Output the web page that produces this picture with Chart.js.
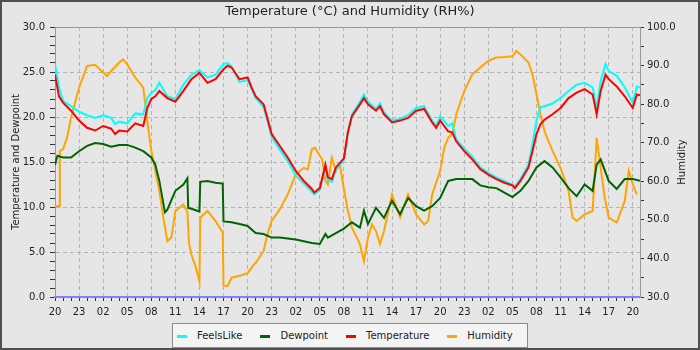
<!DOCTYPE html>
<html lang="en">
<head>
    <meta charset="UTF-8">
    <title>Temperature and Humidity</title>
    <script src="https://cdn.jsdelivr.net/npm/chart.js"></script>
    <style>
        html, body { margin: 0; padding: 0; background: #e6e6e6; }
        #wrap { position: relative; width: 700px; height: 350px; }
        #frame {
            position: absolute; left: 0; top: 0; width: 700px; height: 350px;
            box-sizing: border-box; border: 2px solid #505050; pointer-events: none;
        }
        #legend {
            position: absolute; left: 172px; top: 323px; width: 356px; height: 25px;
            box-sizing: border-box; background: #f4f4f4; border: 1px solid #8c8c8c;
            display: flex; align-items: center; padding-left: 4px;
            font: 10px "DejaVu Sans", sans-serif; color: #222;
        }
        .item { display: flex; align-items: center; margin-right: 18px; }
        .mark { width: 10px; height: 3px; margin-right: 10px; margin-top: 2px; }
    </style>
</head>
<body>
<div id="wrap">
    <canvas id="chart" width="700" height="350"></canvas>
    <div id="legend"></div>
    <div id="frame"></div>
</div>
<script>
    // hours after 20:00 on the first day
    const tempHours = [0,0.5,1,2,3,4,5,6,7,7.5,8,9,10,11,11.5,12,12.5,13,14,15,16,17,18,19,20,21,21.5,22,23,24,
        24.5,25,26,27,28,29,30,31,32,32.3,33,33.7,34,34.5,35,36,36.5,37,38,38.5,39,40,40.5,41,42,43,44,45,46,47,
        47.5,48,49,49.5,50,51,52,53,54,55,56,57,57.3,58,59,59.5,60,60.5,61,62,63,64,65,66,67,67.5,68,68.6,69,70,
        71,72,72.5,72.9];
    const temperature = [24.7,22.3,21.6,20.7,19.6,18.8,18.5,19.0,18.7,18.1,18.5,18.4,19.3,19.0,21.0,22.0,22.3,22.9,22.1,21.7,
        22.9,24.2,24.9,23.8,24.2,25.3,25.7,25.5,24.2,24.4,23.3,22.3,21.4,18.1,16.8,15.5,14.0,12.9,12.0,11.6,
        12.1,14.7,13.3,13.1,14.4,15.4,18.3,20.1,21.4,22.1,21.4,20.7,21.2,20.3,19.4,19.6,19.9,20.7,20.9,19.4,
        18.8,19.6,18.4,18.3,17.3,16.2,15.3,14.2,13.6,13.1,12.7,12.4,12.1,12.9,14.4,16.2,18.1,19.2,19.7,20.3,
        21.0,22.1,22.7,23.1,22.5,20.3,22.9,24.7,24.2,23.4,22.3,21.0,22.5,22.4];
    const feelsLike = [25.9,23.3,21.8,21.2,20.6,20.2,19.9,20.2,19.9,19.2,19.5,19.3,20.4,20.3,22.1,22.7,23.0,23.8,22.3,22.0,
        23.6,24.7,25.2,24.4,24.7,25.9,26.0,25.6,23.9,24.1,23.1,22.1,21.1,17.8,16.4,15.1,13.5,12.6,11.7,11.4,
        11.9,14.5,13.0,12.8,14.1,15.2,18.3,20.3,21.7,22.5,21.7,20.9,21.5,20.5,19.6,19.8,20.2,21.0,21.2,19.6,
        19.0,20.1,19.0,19.3,17.5,16.5,15.6,14.4,13.8,13.3,12.9,12.5,12.3,13.1,14.7,17.0,19.6,21.1,21.2,21.5,
        22.1,22.9,23.6,23.8,23.3,21.0,24.0,25.9,25.1,24.6,23.3,21.6,23.4,23.3];

    const dewHours = [0,0.3,1,2,3,4,5,6,7,8,9,10,11,12,12.5,13,13.7,14,15,16,16.5,16.6,17,18,18.1,19,20,20.9,21,22,
        23,24,25,26,27,28,29,30,31,32,33,33.7,34,35,36,37,38,38.5,39,40,41,42,43,44,45,46,47,48,49,50,
        51,52,53,54,55,56,57,58,59,60,61,62,63,64,65,66,67,67.5,68,69,70,71,72,72.9];
    const dewpoint = [14.7,15.7,15.5,15.5,16.2,16.8,17.1,17.0,16.7,16.9,16.9,16.6,16.2,15.5,14.7,12.9,9.4,9.7,11.8,12.5,
        13.2,9.9,9.8,9.5,12.8,12.9,12.7,12.6,8.4,8.3,8.1,7.9,7.1,7.0,6.6,6.6,6.5,6.4,6.2,6.0,
        5.9,7.0,6.6,7.1,7.6,8.3,7.7,9.6,8.1,9.9,8.8,10.7,9.2,11.0,10.1,9.6,10.1,11.0,12.9,13.1,
        13.1,13.1,12.4,12.2,12.1,11.6,11.1,11.8,12.9,14.4,15.1,14.4,13.3,12.1,11.2,12.5,11.8,14.7,15.3,12.9,
        12.0,13.1,13.1,12.9];

    const humHours = [0,0.5,0.6,1,1.5,2,3,4,5,6,6.5,7,8,8.5,9,10,11,11.5,12,13,13.5,14,14.5,15,16,16.5,16.7,17,17.5,18,
        18.1,19,20,20.9,21,21.5,22,23,24,24.7,25,26,26.5,27,28,29,30,31,31.5,32,32.4,33,33.3,33.7,34,34.5,35,35.5,36,36.5,
        37,38,38.5,39,39.5,40,40.5,41,42,43,44,45,46,46.5,47,48,48.5,49,49.5,50,51,52,53,54,55,56,57,57.5,58,59,
        59.5,60,60.5,61,61.5,62,63,64,64.5,65,66,67,67.5,68,68.5,69,70,71,71.5,72,72.5];
    const humidity = [53.6,53.6,67.9,68.3,71.3,76.5,84.3,89.9,90.2,88.2,87.3,88.6,90.8,91.6,90.3,86.9,84.3,75.6,67.9,57.5,
        50.6,44.5,45.4,52.3,54.0,52.0,44.0,41.0,38.0,34.0,50.6,52.3,49.7,46.7,33.0,32.8,35.0,35.5,36.2,38.2,
        38.8,42.0,46.5,49.7,52.7,56.6,61.8,63.5,63.1,68.3,68.7,66.6,65.7,60.1,59.2,66.1,62.7,64.4,58.0,52.3,
        48.0,43.7,39.3,45.4,48.8,47.1,43.7,47.1,56.6,50.6,56.6,51.4,48.8,49.7,56.6,62.7,68.7,71.3,72.2,77.4,
        83.4,87.7,89.5,91.2,92.1,92.2,92.4,93.8,92.9,90.8,87.7,82.5,77.4,73.0,70.4,67.9,63.5,57.5,50.6,49.7,
        51.4,52.3,71.3,63.5,55.8,50.6,49.3,54.9,62.7,59.2,56.6];

    const startHour = 20;
    const lastHour = 72.9;
    const font = { family: '"DejaVu Sans", sans-serif', size: 10 };
    const gridColor = '#b4b4b4';

    const pts = (hs, vs) => hs.map((h, i) => ({ x: h, y: vs[i] }));

    const framePlugin = {
        id: 'frame',
        beforeDraw(chart) {
            const { ctx, width, height } = chart;
            ctx.save();
            ctx.fillStyle = '#e6e6e6';
            ctx.fillRect(0, 0, width, height);
            ctx.restore();
        },
        afterDraw(chart) {
            const { ctx, chartArea: a } = chart;
            ctx.save();
            ctx.strokeStyle = '#999';
            ctx.lineWidth = 1;
            ctx.beginPath();
            ctx.moveTo(a.left, a.top + 0.5);
            ctx.lineTo(a.right, a.top + 0.5);
            ctx.stroke();
            // right axis title reads bottom to top
            ctx.fillStyle = '#222';
            ctx.font = '10px "DejaVu Sans", sans-serif';
            ctx.translate(682, (a.top + a.bottom) / 2);
            ctx.rotate(-Math.PI / 2);
            ctx.textAlign = 'center';
            ctx.textBaseline = 'middle';
            ctx.fillText('Humidity', 0, 0);
            ctx.restore();
        }
    };

    const line = (label, data, color, yAxisID, order) => ({
        label, data, borderColor: color, backgroundColor: color, yAxisID, order,
        borderWidth: 2, pointRadius: 0, tension: 0, fill: false
    });

    const chart = new Chart(document.getElementById('chart').getContext('2d'), {
        type: 'line',
        data: {
            datasets: [
                line('FeelsLike', pts(tempHours, feelsLike), '#00ffff', 'y', 3),
                line('Dewpoint', pts(dewHours, dewpoint), '#006400', 'y', 2),
                line('Temperature', pts(tempHours, temperature), '#ff0000', 'y', 1),
                line('Humidity', pts(humHours, humidity), '#ffa500', 'y1', 4)
            ]
        },
        options: {
            responsive: false,
            animation: false,
            devicePixelRatio: 1,
            layout: { padding: { top: 0, bottom: 26, left: 0, right: 0 } },
            plugins: {
                legend: { display: false },
                tooltip: { enabled: false },
                title: {
                    display: true,
                    text: 'Temperature (°C) and Humidity (RH%)',
                    color: '#222',
                    font: { family: font.family, size: 13, weight: 'normal' },
                    padding: { top: 4, bottom: 7.4 }
                }
            },
            scales: {
                x: {
                    type: 'linear', min: 0, max: lastHour,
                    afterBuildTicks: s => {
                        s.ticks = Array.from({ length: Math.floor(lastHour) + 1 }, (_, i) => ({ value: i }));
                    },
                    afterFit: s => { s.height = 27; },
                    ticks: {
                        stepSize: 1, autoSkip: false, maxRotation: 0, padding: 5, color: '#222', font,
                        callback: v => v % 3 === 0 ? String((startHour + v) % 24).padStart(2, '0') : ''
                    },
                    grid: {
                        color: c => c.tick && c.tick.value % 3 === 0 ? gridColor : 'transparent',
                        tickColor: '#333', tickLength: 4
                    },
                    border: { color: '#7f7fff', width: 2, dash: [4, 3] }
                },
                y: {
                    position: 'left', min: 0, max: 30,
                    afterFit: s => { s.width = 55; },
                    ticks: {
                        stepSize: 1, autoSkip: false, padding: 5, color: '#222', font,
                        callback: v => v % 5 === 0 ? v.toFixed(1) : ''
                    },
                    grid: {
                        color: c => c.tick && c.tick.value % 5 === 0 ? gridColor : 'transparent',
                        tickColor: '#333', tickLength: 5
                    },
                    border: { color: '#999', dash: [4, 3] },
                    title: {
                        display: true, text: 'Temperature and Dewpoint', color: '#222', font,
                        padding: { top: 10, bottom: 0 }
                    }
                },
                y1: {
                    position: 'right', min: 30, max: 100,
                    afterFit: s => { s.width = 60; },
                    ticks: {
                        stepSize: 5, autoSkip: false, padding: 3, color: '#222', font,
                        callback: v => v % 10 === 0 ? v.toFixed(1) : ''
                    },
                    grid: { drawOnChartArea: false, tickColor: '#333', tickLength: 4 },
                    border: { color: '#999' }
                }
            }
        },
        plugins: [framePlugin]
    });

    const legendEl = document.getElementById('legend');
    chart.data.datasets.forEach(ds => {
        const item = document.createElement('span');
        item.className = 'item';
        const mark = document.createElement('span');
        mark.className = 'mark';
        mark.style.background = ds.borderColor;
        const text = document.createElement('span');
        text.textContent = ds.label;
        item.appendChild(mark);
        item.appendChild(text);
        legendEl.appendChild(item);
    });
</script>
</body>
</html>
